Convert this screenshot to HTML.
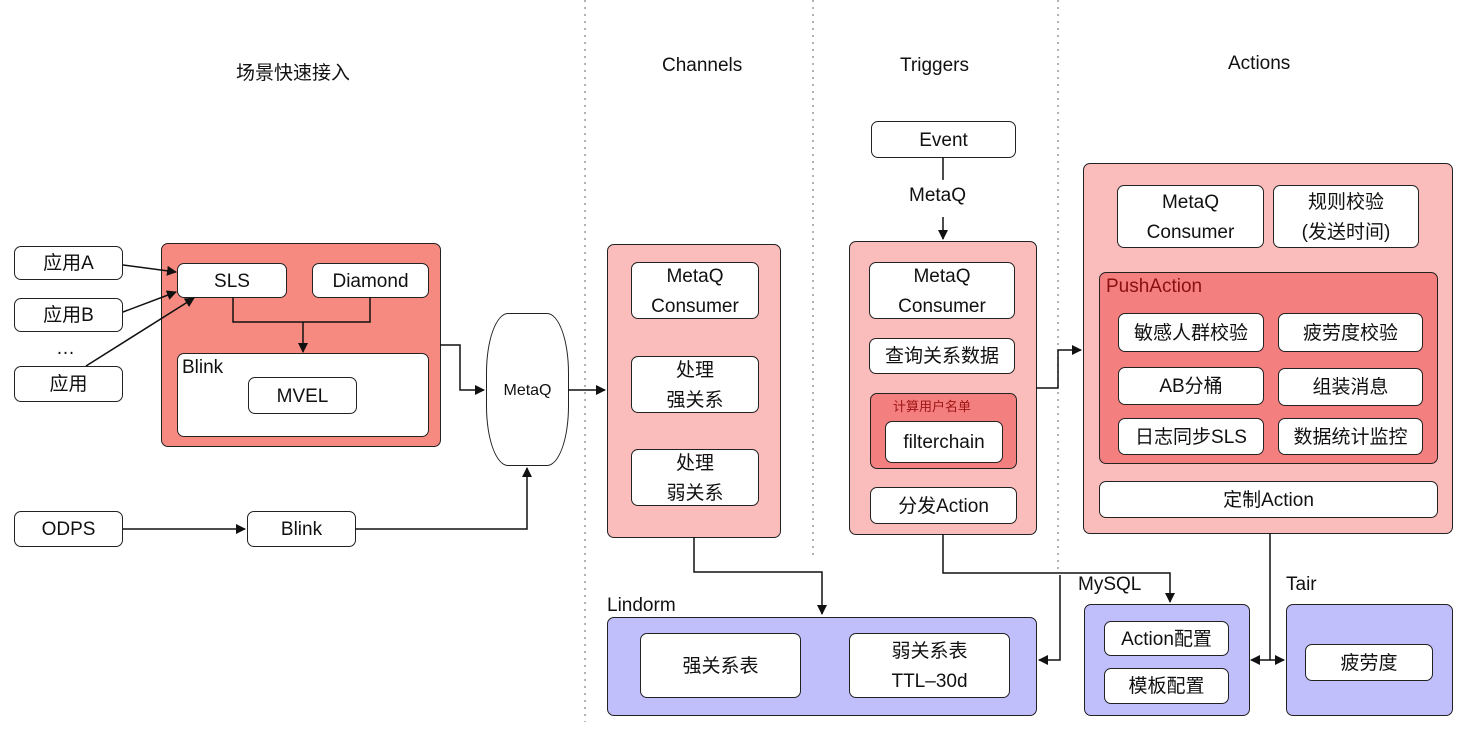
<!DOCTYPE html>
<html><head><meta charset="utf-8"><style>
body{margin:0;width:1468px;height:734px;background:#fff;position:relative;overflow:hidden;font-family:"Liberation Sans","Noto Sans CJK SC",sans-serif;color:#111}
.b{position:absolute;box-sizing:border-box;border:1.5px solid #222;border-radius:7px;background:#fff;display:flex;align-items:center;justify-content:center;text-align:center;font-size:19px;line-height:30px;padding-top:2px}
.c{position:absolute;box-sizing:border-box;border:1.5px solid #222;border-radius:7px}
.t{position:absolute;font-size:19px;white-space:nowrap}
.pink{background:#fbbcbc}.red{background:#f68a80}.red2{background:#f47f7f}.lav{background:#c0bffb}
svg{position:absolute;left:0;top:0;z-index:5}
</style></head><body>
<div class="t" style="left:236px;top:58px">场景快速接入</div>
<div class="t" style="left:662px;top:55px">Channels</div>
<div class="t" style="left:900px;top:55px">Triggers</div>
<div class="t" style="left:1228px;top:53px">Actions</div>
<div class="b" style="left:14px;top:246px;width:109px;height:34px">应用A</div>
<div class="b" style="left:14px;top:298px;width:109px;height:34px">应用B</div>
<div class="t" style="left:56px;top:338px">…</div>
<div class="b" style="left:14px;top:366px;width:109px;height:36px">应用</div>
<div class="b" style="left:14px;top:511px;width:109px;height:36px">ODPS</div>
<div class="b" style="left:247px;top:511px;width:109px;height:36px">Blink</div>
<div class="c red" style="left:161px;top:243px;width:280px;height:204px"></div>
<div class="b" style="left:177px;top:263px;width:110px;height:35px">SLS</div>
<div class="b" style="left:312px;top:263px;width:117px;height:35px">Diamond</div>
<div class="c" style="left:177px;top:353px;width:252px;height:84px;background:#fff"></div>
<div class="t" style="left:182px;top:357px">Blink</div>
<div class="b" style="left:248px;top:377px;width:109px;height:37px">MVEL</div>
<div class="b" style="left:486px;top:313px;width:83px;height:153px;border-radius:22px/60px;font-size:16px">MetaQ</div>
<div class="c pink" style="left:607px;top:244px;width:174px;height:294px"></div>
<div class="b" style="left:631px;top:262px;width:128px;height:57px">MetaQ<br>Consumer</div>
<div class="b" style="left:631px;top:356px;width:128px;height:57px">处理<br>强关系</div>
<div class="b" style="left:631px;top:449px;width:128px;height:57px">处理<br>弱关系</div>
<div class="t" style="left:607px;top:595px">Lindorm</div>
<div class="c lav" style="left:607px;top:617px;width:430px;height:99px"></div>
<div class="b" style="left:640px;top:633px;width:161px;height:65px">强关系表</div>
<div class="b" style="left:849px;top:633px;width:161px;height:65px">弱关系表<br>TTL–30d</div>
<div class="b" style="left:871px;top:121px;width:145px;height:37px">Event</div>
<div class="t" style="left:909px;top:185px">MetaQ</div>
<div class="c pink" style="left:849px;top:241px;width:188px;height:294px"></div>
<div class="b" style="left:869px;top:262px;width:146px;height:57px">MetaQ<br>Consumer</div>
<div class="b" style="left:869px;top:338px;width:146px;height:36px">查询关系数据</div>
<div class="c red2" style="left:870px;top:393px;width:147px;height:76px"></div>
<div class="t" style="left:893px;top:396px;font-size:13px;color:#a01515">计算用户名单</div>
<div class="b" style="left:885px;top:421px;width:118px;height:42px">filterchain</div>
<div class="b" style="left:870px;top:487px;width:147px;height:37px">分发Action</div>
<div class="c pink" style="left:1083px;top:163px;width:370px;height:371px"></div>
<div class="b" style="left:1117px;top:185px;width:147px;height:63px">MetaQ<br>Consumer</div>
<div class="b" style="left:1273px;top:185px;width:146px;height:63px">规则校验<br>(发送时间)</div>
<div class="c red2" style="left:1099px;top:272px;width:339px;height:192px"></div>
<div class="t" style="left:1106px;top:276px;color:#8a1010">PushAction</div>
<div class="b" style="left:1118px;top:313px;width:146px;height:39px">敏感人群校验</div>
<div class="b" style="left:1278px;top:313px;width:145px;height:39px">疲劳度校验</div>
<div class="b" style="left:1118px;top:367px;width:146px;height:38px">AB分桶</div>
<div class="b" style="left:1278px;top:368px;width:145px;height:38px">组装消息</div>
<div class="b" style="left:1118px;top:418px;width:146px;height:37px">日志同步SLS</div>
<div class="b" style="left:1278px;top:418px;width:145px;height:37px">数据统计监控</div>
<div class="b" style="left:1099px;top:481px;width:339px;height:37px">定制Action</div>
<div class="t" style="left:1078px;top:574px">MySQL</div>
<div class="c lav" style="left:1084px;top:604px;width:166px;height:112px"></div>
<div class="b" style="left:1104px;top:621px;width:125px;height:35px">Action配置</div>
<div class="b" style="left:1104px;top:668px;width:125px;height:36px">模板配置</div>
<div class="t" style="left:1286px;top:574px">Tair</div>
<div class="c lav" style="left:1286px;top:604px;width:167px;height:112px"></div>
<div class="b" style="left:1305px;top:644px;width:128px;height:37px">疲劳度</div>
<svg width="1468" height="734">
<defs><marker id="a" markerWidth="10" markerHeight="10" refX="9" refY="5" orient="auto" markerUnits="userSpaceOnUse"><path d="M0,0L10,5L0,10z" fill="#111"/></marker></defs>
<g stroke="#999" stroke-width="1.5" stroke-dasharray="2,5"><line x1="585" y1="0" x2="585" y2="722"/><line x1="813" y1="0" x2="813" y2="555"/><line x1="1058" y1="0" x2="1058" y2="570"/></g>
<g stroke="#111" stroke-width="1.5" fill="none" marker-end="url(#a)">
<line x1="123" y1="265" x2="176" y2="272"/><line x1="123" y1="312" x2="176" y2="292"/><line x1="86" y1="366" x2="194" y2="298"/>
<polyline points="233,297 233,322 370,322 370,297" marker-end="none"/><line x1="303" y1="322" x2="303" y2="352"/>
<polyline points="440,345 460,345 460,390 484,390"/><line x1="568" y1="390" x2="605" y2="390"/>
<line x1="123" y1="529" x2="245" y2="529"/><polyline points="355,529 527,529 527,468"/>
<polyline points="694,537 694,572 822,572 822,614"/>
<line x1="943" y1="157" x2="943" y2="180" marker-end="none"/><line x1="943" y1="217" x2="943" y2="239"/>
<polyline points="1036,388 1058,388 1058,350 1081,350"/>
<polyline points="943,534 943,573 1170,573 1170,602"/><polyline points="1060,575 1060,660 1039,660"/>
<polyline points="1270,533 1270,660 1251,660"/><line x1="1270" y1="660" x2="1284" y2="660"/>
</g>
</svg>
</body></html>
